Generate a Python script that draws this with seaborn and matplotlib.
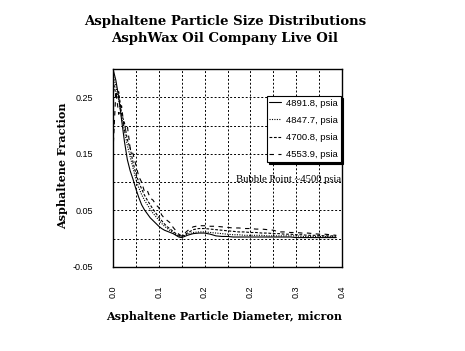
import matplotlib
matplotlib.use("Agg")
import matplotlib.pyplot as plt
import seaborn as sns
import pandas as pd

# ---- data ----
diameter = [0, 0.005, 0.01, 0.015, 0.02, 0.025, 0.03, 0.035, 0.04, 0.045,
            0.05, 0.055, 0.06, 0.065, 0.07, 0.075, 0.08, 0.085, 0.09, 0.095,
            0.10, 0.105, 0.11, 0.115, 0.12, 0.13, 0.14, 0.15, 0.16, 0.17,
            0.18, 0.19, 0.20, 0.21, 0.22, 0.23, 0.24, 0.25, 0.26, 0.27,
            0.28, 0.29, 0.30, 0.31, 0.32, 0.33, 0.34, 0.35, 0.36, 0.37,
            0.38, 0.39]

p4891 = [0.300, 0.280, 0.250, 0.210, 0.172, 0.140, 0.120, 0.105, 0.088, 0.073,
         0.060, 0.051, 0.044, 0.037, 0.032, 0.027, 0.022, 0.018, 0.015, 0.013,
         0.011, 0.009, 0.006, 0.003, 0.002, 0.006, 0.009, 0.010, 0.010, 0.008,
         0.005, 0.004, 0.004, 0.003, 0.003, 0.003, 0.003, 0.003, 0.003, 0.003,
         0.003, 0.003, 0.003, 0.003, 0.002, 0.002, 0.002, 0.002, 0.002, 0.002,
         0.002, 0.002]

p4847 = [0.290, 0.270, 0.245, 0.215, 0.190, 0.165, 0.145, 0.125, 0.105, 0.090,
         0.078, 0.068, 0.060, 0.052, 0.045, 0.039, 0.033, 0.027, 0.022, 0.018,
         0.014, 0.011, 0.007, 0.004, 0.003, 0.008, 0.011, 0.012, 0.012, 0.011,
         0.010, 0.009, 0.008, 0.007, 0.007, 0.006, 0.006, 0.006, 0.006, 0.005,
         0.005, 0.005, 0.005, 0.005, 0.005, 0.004, 0.004, 0.004, 0.004, 0.004,
         0.004, 0.004]

p4700 = [0.280, 0.255, 0.260, 0.220, 0.205, 0.175, 0.160, 0.135, 0.115, 0.100,
         0.088, 0.077, 0.068, 0.060, 0.052, 0.045, 0.038, 0.032, 0.026, 0.021,
         0.017, 0.013, 0.009, 0.006, 0.004, 0.010, 0.016, 0.018, 0.018, 0.017,
         0.016, 0.015, 0.014, 0.013, 0.012, 0.012, 0.011, 0.011, 0.010, 0.010,
         0.009, 0.009, 0.008, 0.008, 0.007, 0.007, 0.006, 0.006, 0.006, 0.005,
         0.005, 0.005]

p4553 = [0.155, 0.260, 0.220, 0.235, 0.190, 0.200, 0.160, 0.150, 0.130, 0.110,
         0.100, 0.083, 0.085, 0.072, 0.068, 0.060, 0.055, 0.042, 0.036, 0.032,
         0.028, 0.020, 0.014, 0.008, 0.005, 0.014, 0.021, 0.023, 0.023, 0.022,
         0.022, 0.021, 0.020, 0.019, 0.019, 0.018, 0.018, 0.017, 0.017, 0.016,
         0.015, 0.012, 0.012, 0.011, 0.011, 0.010, 0.010, 0.009, 0.008, 0.008,
         0.007, 0.006]

series_labels = ["4891.8, psia", "4847.7, psia", "4700.8, psia", "4553.9, psia"]
series_values = [p4891, p4847, p4700, p4553]

x_ticks = [0, 0.04, 0.08, 0.12, 0.16, 0.20, 0.24, 0.28, 0.32, 0.36, 0.40]
x_tick_labels = ["0.0", "", "0.1", "", "0.2", "", "0.2", "", "0.3", "", "0.4"]
y_ticks = [-0.05, 0.0, 0.05, 0.10, 0.15, 0.20, 0.25, 0.30]
y_tick_labels = ["-0.05", "", "0.05", "", "0.15", "", "0.25", ""]

title_text = "Asphaltene Particle Size Distributions\nAsphWax Oil Company Live Oil"
x_label = "Asphaltene Particle Diameter, micron"
y_label = "Asphaltene Fraction"
note_text = "Bubble Point ~4500 psia"

# ---- plot ----
sns.set_theme(style="white")
plt.rcParams["font.family"] = ["Liberation Sans", "DejaVu Sans"]
plt.rcParams.update({"text.color": "black", "axes.labelcolor": "black",
                     "xtick.color": "black", "ytick.color": "black"})

fig = plt.figure(figsize=(4.65, 3.51), dpi=100)
ax = fig.add_axes([113 / 465, 1 - 267 / 351, 229 / 465, 198 / 351])

styles = ["-", (0, (1, 1.2)), (0, (2.5, 1.5)), (0, (4, 4))]
for lab, vals, ls in zip(series_labels, series_values, styles):
    df = pd.DataFrame({"x": diameter, "y": vals})
    sns.lineplot(data=df, x="x", y="y", ax=ax, color="black", linewidth=0.8,
                 linestyle=ls, label=lab)

ax.set_xlim(0, 0.4)
ax.set_ylim(-0.05, 0.30)
ax.set_xticks(x_ticks)
ax.set_xticklabels(x_tick_labels, rotation=90, fontsize=6.5)
ax.set_yticks(y_ticks)
ax.set_yticklabels(y_tick_labels, fontsize=6.5)
ax.tick_params(axis="both", length=0, colors="black")
ax.tick_params(axis="x", pad=13)
ax.tick_params(axis="y", pad=14)
ax.grid(True, color="black", linestyle=(0, (2, 2)), linewidth=0.7)
for s in ax.spines.values():
    s.set_color("black")
    s.set_linewidth(1.0)

ax.set_xlabel("")
ax.set_ylabel("")
fig.text(224 / 465, 1 - 316 / 351, x_label, ha="center", va="center",
         fontsize=8.0, fontweight="bold", family="DejaVu Serif", color="black")
fig.text(63 / 465, 1 - 166 / 351, y_label, ha="center", va="center", rotation=90,
         fontsize=8.0, fontweight="bold", family="DejaVu Serif", color="black")
fig.text(225 / 465, 1 - 30 / 351, title_text, ha="center", va="center",
         fontsize=9.5, fontweight="bold", family="DejaVu Serif", linespacing=1.45,
         color="black")

ax.text(0.399, 0.100, note_text, ha="right", va="baseline",
        fontsize=7.7, family="Liberation Serif", color="black")

leg = ax.legend(loc="upper right", bbox_to_anchor=(0.996, 0.864), fontsize=6.8,
                frameon=True, fancybox=False, handlelength=1.2, handletextpad=0.6,
                borderpad=0.3, labelspacing=0.85, borderaxespad=0,
                shadow={"color": "black", "alpha": 1, "ox": 1.5, "oy": -1.5})
leg.get_frame().set_edgecolor("black")
leg.get_frame().set_linewidth(0.8)
leg.get_frame().set_facecolor("white")
leg.get_frame().set_alpha(1)
for t in leg.get_texts():
    t.set_color("black")

fig.savefig("out.png", dpi=100, facecolor="white")
